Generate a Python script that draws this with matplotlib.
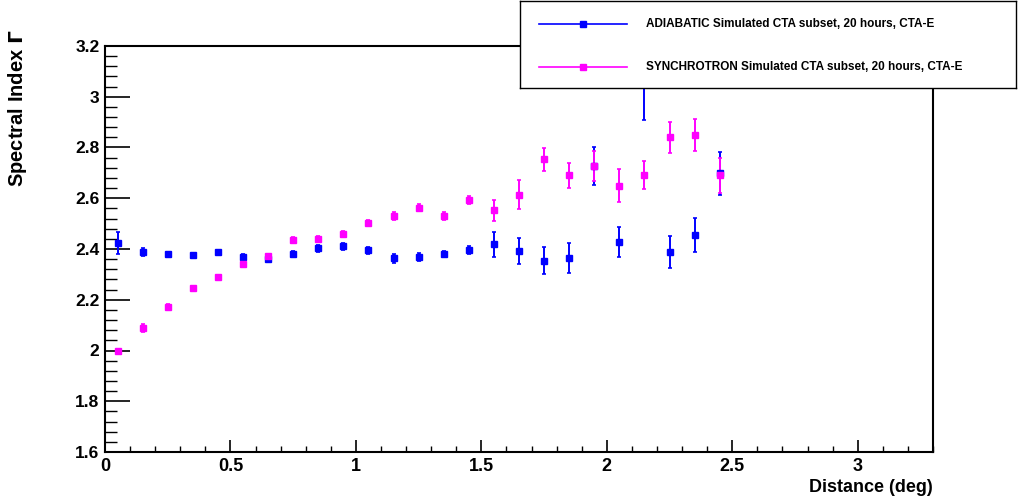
import matplotlib
matplotlib.use("Agg")
import matplotlib.pyplot as plt
from matplotlib.ticker import MultipleLocator, FuncFormatter

plt.rcParams['font.family'] = ['Liberation Sans', 'DejaVu Sans']
plt.rcParams['font.weight'] = 'bold'

# --- data ---
distance = [0.05, 0.15, 0.25, 0.35, 0.45, 0.55, 0.65, 0.75, 0.85, 0.95,
            1.05, 1.15, 1.25, 1.35, 1.45, 1.55, 1.65, 1.75, 1.85, 1.95,
            2.05, 2.15, 2.25, 2.35, 2.45]

adiabatic = [2.424, 2.388, 2.379, 2.378, 2.390, 2.370, 2.362, 2.380, 2.402, 2.410,
             2.395, 2.363, 2.368, 2.379, 2.396, 2.418, 2.393, 2.354, 2.365, 2.727,
             2.428, 3.070, 2.388, 2.455, 2.698]
adiabatic_err = [0.043, 0.015, 0.006, 0.006, 0.008, 0.012, 0.012, 0.012, 0.012, 0.012,
                 0.014, 0.017, 0.015, 0.012, 0.015, 0.050, 0.052, 0.054, 0.058, 0.074,
                 0.060, 0.160, 0.064, 0.068, 0.085]

synchrotron = [2.000, 2.088, 2.173, 2.245, 2.291, 2.342, 2.372, 2.435, 2.440, 2.459,
               2.504, 2.530, 2.563, 2.530, 2.592, 2.552, 2.614, 2.753, 2.690, 2.727,
               2.650, 2.692, 2.840, 2.850, 2.690]
synchrotron_err = [0.004, 0.015, 0.010, 0.006, 0.006, 0.008, 0.010, 0.012, 0.012, 0.012,
                   0.012, 0.015, 0.015, 0.015, 0.015, 0.043, 0.058, 0.046, 0.050, 0.060,
                   0.066, 0.056, 0.060, 0.062, 0.069]

labels = ["ADIABATIC Simulated CTA subset, 20 hours, CTA-E",
          "SYNCHROTRON Simulated CTA subset, 20 hours, CTA-E"]
colors = ["#0000ff", "#ff00ff"]

W, H = 1018, 501
fig = plt.figure(figsize=(W / 100, H / 100), dpi=100)
ax = fig.add_axes([105 / W, 1 - 452 / H, 828 / W, 406 / H])

ax.errorbar(distance, adiabatic, yerr=adiabatic_err, fmt='s', color=colors[0],
            markersize=5, elinewidth=1.4, capsize=1.5, capthick=1.2)
ax.errorbar(distance, synchrotron, yerr=synchrotron_err, fmt='s', color=colors[1],
            markersize=5, elinewidth=1.4, capsize=1.5, capthick=1.2)

ax.set_xlim(0, 3.3)
ax.set_ylim(1.6, 3.2)

# ROOT-like ticks: inward, left/bottom only
ax.xaxis.set_major_locator(MultipleLocator(0.5))
ax.xaxis.set_minor_locator(MultipleLocator(0.1))
ax.yaxis.set_major_locator(MultipleLocator(0.2))
ax.yaxis.set_minor_locator(MultipleLocator(0.04))
fmt = FuncFormatter(lambda v, p: f"{v:g}")
ax.xaxis.set_major_formatter(fmt)
ax.yaxis.set_major_formatter(fmt)
ax.tick_params(axis='x', which='major', direction='in', length=8.6, width=1.2,
               labelsize=13, pad=4)
ax.tick_params(axis='x', which='minor', direction='in', length=4.3, width=1.0)
ax.tick_params(axis='y', which='major', direction='in', length=18, width=1.2,
               labelsize=12.5, pad=4)
ax.tick_params(axis='y', which='minor', direction='in', length=8.6, width=1.0)
for s in ax.spines.values():
    s.set_linewidth(1.5)

fig.text(933 / W, 1 - 487 / H, "Distance (deg)", ha='right', va='center',
         fontsize=13, fontweight='bold')
fig.text(18 / W, 1 - 30 / H, "Spectral Index $\\mathrm{\\Gamma}$", rotation=90,
         ha='center', va='top', fontsize=14.5, fontweight='bold')

# legend box, drawn over the top right of the frame
lax = fig.add_axes([520 / W, 1 - 88 / H, 496 / W, 87 / H])
lax.set_xlim(0, 496)
lax.set_ylim(87, 0)
lax.set_xticks([])
lax.set_yticks([])
for s in lax.spines.values():
    s.set_linewidth(1.0)
for i, (lab, c) in enumerate(zip(labels, colors)):
    yy = 23 + i * 43
    lax.plot([19, 107], [yy, yy], color=c, lw=1.2)
    lax.plot([63], [yy], 's', color=c, markersize=4.5)
    lax.text(126, yy, lab, va='center', ha='left', fontsize=8.5, fontweight='bold')

fig.savefig("out.png", dpi=100)
